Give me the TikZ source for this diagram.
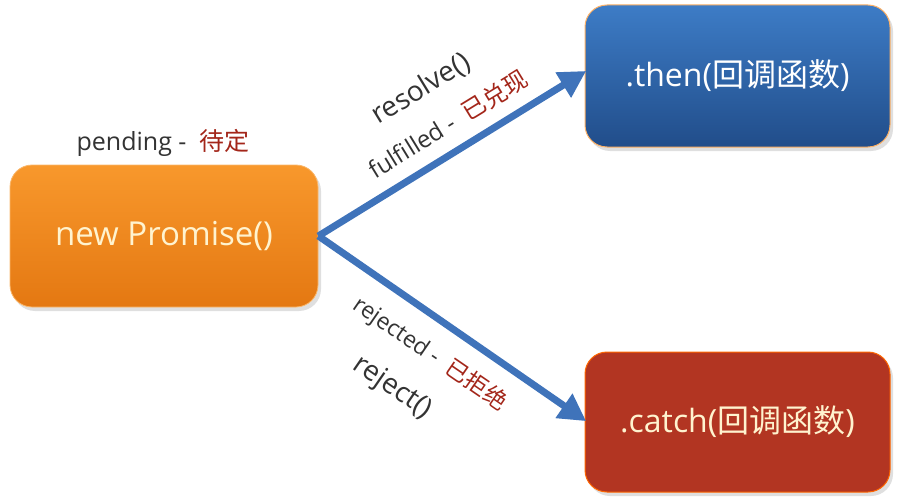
\documentclass[tikz,border=0pt]{standalone}
\usepackage{fontspec}
\setmainfont{Open Sans}
\newfontfamily\cjk{Noto Sans CJK SC}
\usetikzlibrary{arrows.meta,shadows,shadings}
\definecolor{orgtop}{HTML}{F8982C}
\definecolor{orgbot}{HTML}{E47812}
\definecolor{blutop}{HTML}{3D7CC6}
\definecolor{blubot}{HTML}{214D8A}
\definecolor{redbox}{HTML}{B23522}
\definecolor{arrowblue}{HTML}{3F73BA}
\definecolor{cjkred}{HTML}{A3261A}
\definecolor{graytext}{HTML}{333333}
\definecolor{cream}{HTML}{FFF3CF}
\tikzset{
  boxstyle/.style={rounded corners=22pt, minimum width=#1, inner sep=0pt,
    drop shadow={shadow xshift=3pt,shadow yshift=-4pt,opacity=0.25,fill=gray}},
  flowarrow/.style={draw=arrowblue, line width=7pt,
    -{Triangle[length=27pt,width=28pt]}, shorten >=-2pt},
  lbl/.style={text=graytext, inner sep=0pt},
}
\begin{document}
\begin{tikzpicture}[x=1pt,y=-1pt]
\useasboundingbox (0,0) rectangle (898,503);
\node[boxstyle=308pt, minimum height=142pt, top color=orgtop, bottom color=orgbot,
  draw=orgtop!70!white, line width=0.8pt, text=cream,
  font=\fontsize{33}{38}\selectfont] (prom) at (164,236) {new Promise()};
\node[boxstyle=305pt, minimum height=142pt, top color=blutop, bottom color=blubot,
  draw=orange!60!white, line width=1pt, text=white,
  font=\fontsize{32}{38}\selectfont] (then) at (737.5,76) {.then({\cjk 回调函数})};
\node[boxstyle=305pt, minimum height=140pt, fill=redbox,
  draw=orange!80!red, line width=1pt, text=cream,
  font=\fontsize{32}{38}\selectfont] (catch) at (737.5,422) {.catch({\cjk 回调函数})};
\draw[flowarrow] (prom.east) -- (then.west |- 0,72);
\draw[flowarrow] (prom.east) -- (catch.west |- 0,420);
\node[lbl, font=\fontsize{25}{28}\selectfont] (pend) at (163,143)
  {pending -\ \ {\cjk\color{cjkred}待定}};
\node[lbl, rotate=31.5, font=\fontsize{28}{32}\selectfont] (res) at (421,89) {resolve()};
\node[lbl, rotate=31.5, font=\fontsize{24}{28}\selectfont] (ful) at (448,124)
  {fulfilled -\ \ {\cjk\color{cjkred}已兑现}};
\node[lbl, rotate=-34.5, font=\fontsize{23}{28}\selectfont] (rejd) at (430,354)
  {rejected -\ \ {\cjk\color{cjkred}已拒绝}};
\node[lbl, rotate=-34.5, font=\fontsize{28}{32}\selectfont] (rej) at (392,388) {reject()};
\end{tikzpicture}
\end{document}
